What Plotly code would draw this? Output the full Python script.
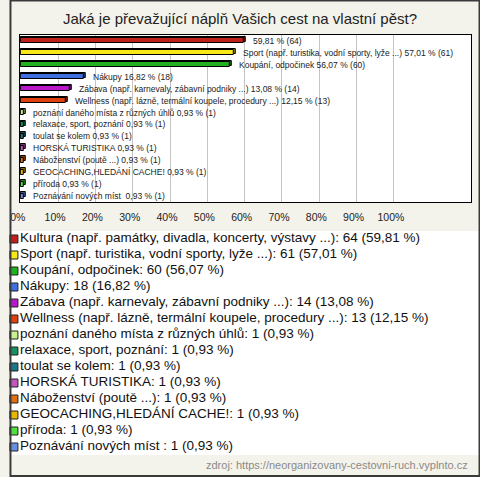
import plotly.graph_objects as go

W, H = 480, 477

categories = [
    "Kultura (např. památky, divadla, koncerty, výstavy ...)",
    "Sport (např. turistika, vodní sporty, lyže ...)",
    "Koupání, odpočinek",
    "Nákupy",
    "Zábava (např. karnevaly, zábavní podniky ...)",
    "Wellness (např. lázně, termální koupele, procedury ...)",
    "poznání daného místa z různých úhlů",
    "relaxace, sport, poznání",
    "toulat se kolem",
    "HORSKÁ TURISTIKA",
    "Náboženství (poutě ...)",
    "GEOCACHING,HLEDÁNÍ CACHE!",
    "příroda",
    "Poznávání nových míst ",
]
counts = [64, 61, 60, 18, 14, 13, 1, 1, 1, 1, 1, 1, 1, 1]
percents = [59.81, 57.01, 56.07, 16.82, 13.08, 12.15, 0.93, 0.93, 0.93, 0.93, 0.93, 0.93, 0.93, 0.93]
colors = ["#c0201a", "#f8e818", "#20b020", "#4070e0", "#b818c8", "#e04010", "#c8f090",
          "#189060", "#187888", "#c058c0", "#e07010", "#e8b800", "#50e040", "#6890e0"]
tick_vals = [0, 10, 20, 30, 40, 50, 60, 70, 80, 90, 100]
tick_text = [f"{v}%" for v in tick_vals]

def fmt(p):
    return f"{p:.2f}".replace(".", ",")

def darker(hexc, f=0.6):
    h = hexc.lstrip("#")
    r, g, b = (int(h[i:i + 2], 16) for i in (0, 2, 4))
    return "#%02x%02x%02x" % (int(r * f), int(g * f), int(b * f))

idx = list(range(len(categories)))
bar_labels = []
for i, (c, n, p) in enumerate(zip(categories, counts, percents)):
    if i == 0:
        bar_labels.append(f"{fmt(p)} % ({n})")
    else:
        bar_labels.append(f"{c} {fmt(p)} % ({n})")
legend_labels = [f"{c}: {n} ({fmt(p)} %)" for c, n, p in zip(categories, counts, percents)]

FONT = "Liberation Sans, Arial, sans-serif"
fig = go.Figure()

# 3D depth (shadow) bars
fig.add_trace(go.Bar(
    x=[p + 0.5 for p in percents], y=idx, orientation="h",
    marker=dict(color=[darker(c) for c in colors], line=dict(color="black", width=1)),
    width=0.42, offset=-0.33, hoverinfo="skip", showlegend=False,
))
# front bars
fig.add_trace(go.Bar(
    x=percents, y=idx, orientation="h",
    marker=dict(color=colors, line=dict(color="black", width=1)),
    width=0.42, offset=-0.21, showlegend=False,
))

for i, (p, t) in enumerate(zip(percents, bar_labels)):
    fig.add_annotation(x=p, y=i, text=t, xref="x", yref="y", xanchor="left",
                       yanchor="middle", xshift=7, showarrow=False,
                       font=dict(family=FONT, size=8.5, color="#222"))

# legend drawn on a second axis
fig.add_trace(go.Scatter(
    x=[0] * len(idx), y=idx, xaxis="x2", yaxis="y2", mode="markers+text",
    marker=dict(symbol="square", size=8, color=colors, line=dict(color="#222", width=1)),
    text=legend_labels, textposition="middle right",
    textfont=dict(family=FONT, size=13.5, color="#111"),
    showlegend=False, cliponaxis=False,
))

fig.update_layout(
    width=W, height=H,
    margin=dict(l=0, r=0, t=0, b=0),
    paper_bgcolor="#f4f3eb",
    plot_bgcolor="white",
    bargap=0, barmode="overlay",
    title=dict(text="Jaká je převažující náplň Vašich cest na vlastní pěst?",
               x=0.5, xanchor="center", y=1 - 19 / H, yanchor="middle",
               font=dict(family=FONT, size=15, color="#222")),
    xaxis=dict(domain=[10 / W, 471 / W], range=[-0.26, 120.7],
               tickvals=tick_vals, ticktext=tick_text, showgrid=True,
               gridcolor="#c4c4c4", gridwidth=1, zeroline=False,
               showline=True, linecolor="black", linewidth=1, mirror=True,
               ticks="", ticklabelstandoff=5, ticklabelshift=-3,
               tickfont=dict(family=FONT, size=10.5, color="#222"), fixedrange=True),
    yaxis=dict(domain=[1 - 202 / H, 1 - 35 / H], range=[13.5, -0.5],
               showticklabels=False, showgrid=False, zeroline=False,
               showline=True, linecolor="black", linewidth=1, mirror=True,
               ticks="", fixedrange=True),
    xaxis2=dict(domain=[0, 1], range=[-4, W - 4], visible=False, fixedrange=True),
    yaxis2=dict(domain=[1 - 455 / H, 1 - 231 / H], range=[13.5, -0.5],
                visible=False, fixedrange=True),
    annotations=list(fig.layout.annotations) + [
        dict(text="zdroj: https://neorganizovany-cestovni-ruch.vyplnto.cz",
             xref="paper", yref="paper", x=470 / W, y=1 - 465 / H,
             xanchor="right", yanchor="middle", showarrow=False,
             font=dict(family=FONT, size=11, color="#8a8a8a")),
    ],
    shapes=[dict(type="rect", xref="paper", yref="paper", x0=0.001, x1=0.999,
                 y0=0.002, y1=0.999, line=dict(color="#3a3a3a", width=2))],
)

fig.write_html(
    "out.html",
    config={"displayModeBar": False},
    post_script="document.body.style.margin='0';document.body.style.overflow='hidden';",
)
